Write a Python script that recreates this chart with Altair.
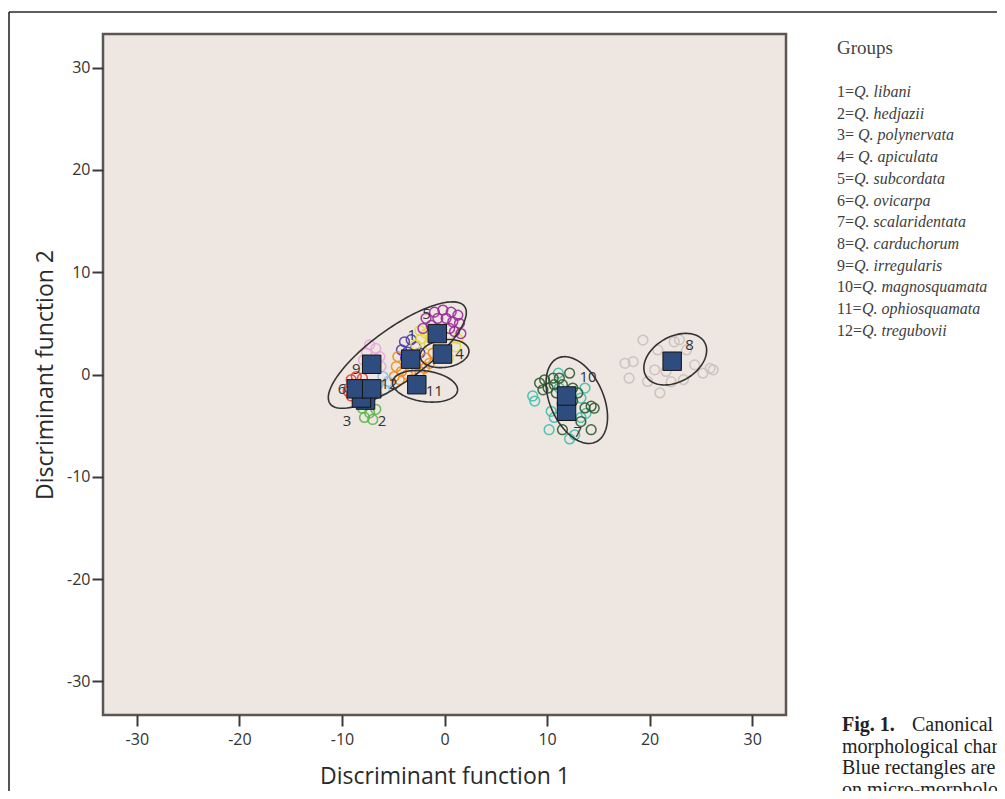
import altair as alt
import numpy as np
import pandas as pd

# ---------------- data ----------------
group_ids = [str(i) for i in range(1, 13)]
prefixes = ["1=", "2=", "3= ", "4= ", "5=", "6=", "7=", "8=", "9=", "10=", "11=", "12="]
species = ["Q. libani", "Q. hedjazii", "Q. polynervata", "Q. apiculata", "Q. subcordata",
           "Q. ovicarpa", "Q. scalaridentata", "Q. carduchorum", "Q. irregularis",
           "Q. magnosquamata", "Q. ophiosquamata", "Q. tregubovii"]
group_colors = ["#4a3aa8", "#5cb846", "#3b6fb6", "#e8d83a", "#9a2a9a", "#e0412e",
                "#3fbfab", "#c9c1bd", "#eaa6dc", "#2e5c34", "#f08c1e", "#8fbde0"]

pts_1 = [(-3.9, 3.2), (-3.25, 3.4), (-2.8, 2.7), (-4.2, 2.4), (-3.6, 2.2), (-2.4, 2.1), (-3.0, 1.2), (-3.8, 1.6)]
pts_2 = [(-8.0, -3.3), (-7.3, -3.75), (-6.7, -3.4), (-7.8, -4.2), (-7.0, -4.4), (-7.5, -2.9)]
pts_3 = [(-8.4, -2.0), (-7.8, -2.6), (-8.2, -1.8), (-7.6, -2.1)]
pts_4 = [(-2.4, 4.3), (-1.8, 4.0), (-1.3, 3.7), (-2.3, 3.5), (-2.8, 2.9), (1.3, 3.5), (1.1, 2.7),
         (-1.5, 2.9), (-0.5, 2.4), (0.4, 1.6)]
pts_5 = [(-0.98, 6.1), (-0.16, 6.3), (0.65, 6.1), (1.3, 5.8), (1.46, 5.0), (0.81, 5.15), (0.16, 5.5),
         (-0.65, 5.5), (-1.3, 4.8), (-2.1, 4.5), (0.98, 4.2), (1.6, 4.0), (0.5, 4.5), (-1.8, 5.5)]
pts_6 = [(-9.1, -0.5), (-8.6, -0.2), (-8.0, -0.36), (-9.3, -1.33), (-9.1, -2.1), (-8.5, -2.6),
         (-7.6, -2.9), (-7.3, -2.5), (-9.4, -1.65), (-8.8, -1.0), (-8.0, -2.0)]
pts_7 = [(8.6, -2.1), (8.8, -2.6), (11.1, 0.13), (13.7, -1.33), (13.3, -2.3), (10.4, -3.6), (10.7, -4.2),
         (10.2, -5.4), (12.2, -6.3), (12.7, -5.9), (13.3, -4.2), (13.8, -3.8), (11.2, -1.33)]
pts_8 = [(19.35, 3.37), (22.4, 3.2), (17.6, 1.1), (18.4, 1.26), (18.0, -0.36), (19.8, -0.68), (21.0, -1.8),
         (23.3, -0.5), (22.1, -0.7), (24.4, 0.94), (25.9, 0.6), (26.2, 0.46), (20.8, 2.4), (23.6, 2.4),
         (21.6, 0.3), (20.5, 0.46), (22.9, 3.4), (25.2, 0.13)]
pts_9 = [(-7.3, 2.9), (-6.7, 2.55), (-6.3, 1.75), (-7.6, 2.1), (-6.8, 1.1), (-6.2, 0.78), (-7.9, 1.4)]
pts_10 = [(9.27, -0.84), (9.76, -0.52), (10.1, -1.33), (10.7, -1.0), (11.2, -0.36), (12.2, 0.13),
          (11.5, -1.0), (12.5, -1.33), (13.0, -1.8), (13.7, -3.27), (14.3, -3.1), (14.6, -3.3),
          (12.0, -3.9), (13.3, -4.6), (14.3, -5.4), (11.5, -5.4), (12.5, -2.6), (10.9, -1.8),
          (10.6, -0.36), (9.6, -1.5)]
pts_11 = [(-4.55, 1.75), (-4.7, 0.78), (-4.2, 0.29), (-3.6, -0.03), (-2.4, 0.29), (-1.8, 1.6),
          (-1.46, 1.1), (-1.95, 0.6), (-4.4, -0.5), (-4.9, -0.2), (-2.8, 0.78), (-1.1, 2.1), (-3.2, -0.5)]
pts_12 = [(-6.0, -0.2), (-5.5, -0.7), (-5.85, -1.5), (-6.5, -1.0)]
all_pts = [pts_1, pts_2, pts_3, pts_4, pts_5, pts_6, pts_7, pts_8, pts_9, pts_10, pts_11, pts_12]

centroid_x = [-3.3, -7.7, -8.1, -0.2, -0.7, -8.6, 11.9, 22.2, -7.1, 11.9, -2.7, -7.1]
centroid_y = [1.5, -2.5, -2.3, 2.0, 4.0, -1.4, -3.6, 1.3, 1.0, -2.1, -1.0, -1.4]

label_text = ["5", "1", "4", "11", "9", "6", "12", "3", "2", "10", "8", "7"]
label_x = [-1.75, -3.2, 1.46, -1.0, -8.6, -10.0, -5.4, -9.5, -6.1, 14.0, 23.9, 13.0]
label_y = [5.9, 3.9, 2.0, -1.65, 0.5, -1.4, -0.9, -4.5, -4.5, -0.2, 2.9, -5.6]

ell_cx = [-4.6, 0.0, -1.9, 12.9, 22.5]
ell_cy = [1.9, 2.05, -1.15, -2.5, 1.5]
ell_a = [8.1, 2.4, 3.2, 4.5, 3.3]
ell_b = [2.6, 1.35, 1.5, 2.6, 2.2]
ell_angle = [36, 8, -8, -66, 30]

x_ticks = [-30, -20, -10, 0, 10, 20, 30]
y_ticks = [-30, -20, -10, 0, 10, 20, 30]

caption_head = "Fig. 1."
caption_first = "Canonical discriminant analysis"
caption_lines = ["morphological characters", "Blue rectangles are group centroids", "on micro-morphological"]

# ---------------- tables ----------------
pts_df = pd.DataFrame([{"x": p[0], "y": p[1], "grp": group_ids[i]}
                       for i, pts in enumerate(all_pts) for p in pts])
cent_df = pd.DataFrame({"x": centroid_x, "y": centroid_y, "grp": group_ids})
lab_df = pd.DataFrame({"x": label_x, "y": label_y, "t": label_text})

t = np.linspace(0, 2 * np.pi, 121)
ell_rows = []
for i in range(len(ell_cx)):
    th = np.deg2rad(ell_angle[i])
    xs = ell_cx[i] + ell_a[i] * np.cos(t) * np.cos(th) - ell_b[i] * np.sin(t) * np.sin(th)
    ys = ell_cy[i] + ell_a[i] * np.cos(t) * np.sin(th) + ell_b[i] * np.sin(t) * np.cos(th)
    for k in range(len(t)):
        ell_rows.append({"x": xs[k], "y": ys[k], "eid": i, "k": k})
ell_df = pd.DataFrame(ell_rows)

# legend layout (pixel positions relative to plot origin)
char_w = {"=": 9.0, " ": 4.0}
def pref_width(s):
    return sum(char_w.get(c, 8.0) for c in s)
leg_df = pd.DataFrame({
    "prefix": prefixes,
    "name": species,
    "px": [734] * 12,
    "nx": [734 + pref_width(p) for p in prefixes],
    "py": [58 + 21.7 * i for i in range(12)],
})
cap_df = pd.DataFrame({"t": caption_lines, "py": [718.5, 740, 761.5]})

# ---------------- encodings ----------------
X = alt.X("x:Q", scale=alt.Scale(domain=[-33.3, 33.3], nice=False, zero=False),
          axis=alt.Axis(values=x_ticks, grid=False, domain=False, tickSize=11, tickWidth=2,
                        tickColor="#3a3a3a", labelFont="Open Sans", labelFontSize=16,
                        labelColor="#333333", labelPadding=5, labelExpr="datum.value + ''",
                        title="Discriminant function 1", titleFont="Open Sans", titleFontSize=23,
                        titleFontWeight="normal", titleColor="#2a2a2a", titleX=341.5, titleY=61,
                        titleBaseline="middle", titleAlign="center"))
Y = alt.Y("y:Q", scale=alt.Scale(domain=[-33.3, 33.3], nice=False, zero=False),
          axis=alt.Axis(values=y_ticks, grid=False, domain=False, tickSize=11, tickWidth=2,
                        tickColor="#3a3a3a", labelFont="Open Sans", labelFontSize=16,
                        labelColor="#333333", labelPadding=2, labelExpr="datum.value + ''",
                        title="Discriminant function 2", titleFont="Open Sans", titleFontSize=23,
                        titleFontWeight="normal", titleColor="#2a2a2a", titleX=-58, titleY=340.5,
                        titleBaseline="middle", titleAlign="center"))

one = pd.DataFrame({"a": [0]})

frame_left = alt.Chart(one).mark_rule(color="#2a2a2a", strokeWidth=1.6).encode(
    x=alt.value(-94), y=alt.value(-22), y2=alt.value(800))
frame_top = alt.Chart(one).mark_rule(color="#2a2a2a", strokeWidth=1.6).encode(
    x=alt.value(-94), x2=alt.value(1000), y=alt.value(-22))

points = alt.Chart(pts_df).mark_point(shape="circle", filled=False, size=95, strokeWidth=1.5,
                                      opacity=0.9).encode(
    x=X, y=Y,
    color=alt.Color("grp:N", scale=alt.Scale(domain=group_ids, range=group_colors), legend=None))

ellipses = alt.Chart(ell_df).mark_line(color="#333333", strokeWidth=1.6).encode(
    x=X, y=Y, detail="eid:N", order="k:Q")

labels = alt.Chart(lab_df).mark_text(font="Open Sans", fontSize=15, color="#333333").encode(
    x=X, y=Y, text="t:N")

squares = alt.Chart(cent_df).mark_point(shape="square", filled=True, size=340, color="#2e4c7d",
                                        stroke="#141414", strokeWidth=1, opacity=1).encode(x=X, y=Y)

leg_title = alt.Chart(one).mark_text(text="Groups", font="Liberation Serif", fontSize=19,
                                     color="#444444", align="left", baseline="middle").encode(
    x=alt.value(734), y=alt.value(14))
leg_pref = alt.Chart(leg_df).mark_text(font="Liberation Serif", fontSize=16, color="#3d3d3d",
                                       align="left", baseline="middle").encode(
    x=alt.X("px:Q", scale=None), y=alt.Y("py:Q", scale=None), text="prefix:N")
leg_name = alt.Chart(leg_df).mark_text(font="Liberation Serif", fontSize=16, fontStyle="italic",
                                       color="#3d3d3d", align="left", baseline="middle").encode(
    x=alt.X("nx:Q", scale=None), y=alt.Y("py:Q", scale=None), text="name:N")

cap_head = alt.Chart(one).mark_text(text=caption_head, font="Liberation Serif", fontSize=20,
                                    fontWeight="bold", color="#222222", align="left",
                                    baseline="alphabetic").encode(x=alt.value(739), y=alt.value(697))
cap_first = alt.Chart(one).mark_text(text=caption_first, font="Liberation Serif", fontSize=20,
                                     color="#222222", align="left", baseline="alphabetic").encode(
    x=alt.value(809), y=alt.value(697))
cap_rest = alt.Chart(cap_df).mark_text(font="Liberation Serif", fontSize=20, color="#222222",
                                       align="left", baseline="alphabetic").encode(
    x=alt.value(739), y=alt.Y("py:Q", scale=None), text="t:N")

chart = alt.layer(
    frame_left, frame_top, points, ellipses, labels, squares,
    leg_title, leg_pref, leg_name, cap_head, cap_first, cap_rest
).properties(
    width=683, height=681,
    padding={"left": 95, "top": 26, "right": 211, "bottom": 76},
    autosize=alt.AutoSizeParams(type="none"),
    background="white",
).configure_view(fill="#ede6e1", stroke="#5b5654", strokeWidth=2.5)

chart.save("out.html", embed_options={"renderer": "svg", "actions": False})
